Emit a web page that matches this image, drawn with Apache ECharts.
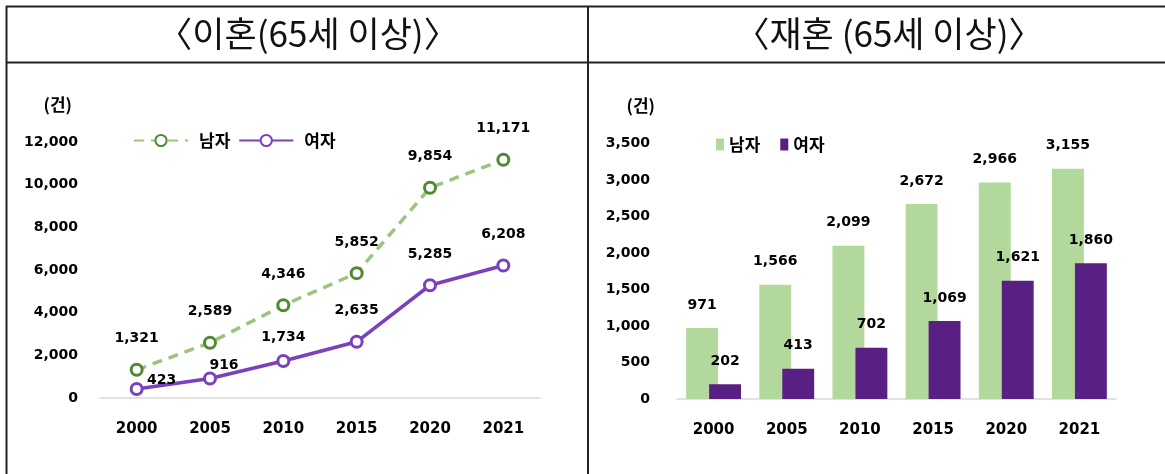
<!DOCTYPE html>
<html>
<head>
<meta charset="utf-8">
<script src="https://cdn.jsdelivr.net/npm/echarts@6/dist/echarts.min.js"></script>
<style>
html, body { margin: 0; padding: 0; background: #fff; }
#chart { width: 1165px; height: 474px; }
</style>
</head>
<body>
<div id="chart"></div>
<script>
// 연도
const years = ['2000', '2005', '2010', '2015', '2020', '2021']
// 이혼 (65세 이상)
const divorceMale = [1321, 2589, 4346, 5852, 9854, 11171]
const divorceFemale = [423, 916, 1734, 2635, 5285, 6208]
// 재혼 (65세 이상)
const remarryMale = [971, 1566, 2099, 2672, 2966, 3155]
const remarryFemale = [202, 413, 702, 1069, 1621, 1860]
// y축 눈금
const divorceTicks = { max: 12000, step: 2000 }
const remarryTicks = { max: 3500, step: 500 }

const NUM_FONT = 'DejaVu Sans'
const KR_FONT = 'Noto Sans CJK KR'
const fmt = v => Number(v).toLocaleString('en-US')

const labelStyle = {
  show: true,
  position: 'top',
  color: '#000',
  fontFamily: NUM_FONT,
  fontWeight: 'bold',
  fontSize: 14,
  formatter: p => fmt(p.value)
}

// 여자 선 라벨 중 몇 개는 원본처럼 옆으로 비껴 놓음
const femaleLabelOffsets = { 0: [25, 22], 1: [14, 18], 2: [0, 7] }

const titleStyle = { fontFamily: KR_FONT, fontWeight: 'normal', fontSize: 35, color: '#111' }
const nameStyle = { fontFamily: KR_FONT, fontWeight: 'bold', fontSize: 17, color: '#000', align: 'right' }
const tickStyle = { color: '#000', fontFamily: NUM_FONT, fontWeight: 'bold', fontSize: 14, formatter: fmt }

const chart = echarts.init(document.getElementById('chart'))
chart.setOption({
  backgroundColor: '#fff',
  animation: false,
  title: [
    { text: '〈이혼(65세 이상)〉', left: 303, top: 11, textAlign: 'center', textStyle: titleStyle },
    { text: '〈재혼 (65세 이상)〉', left: 884, top: 11, textAlign: 'center', textStyle: titleStyle }
  ],
  graphic: [
    { type: 'line', shape: { x1: 6, y1: 6.5, x2: 1165, y2: 6.5 }, style: { stroke: '#222', lineWidth: 2 } },
    { type: 'line', shape: { x1: 6, y1: 62.5, x2: 1165, y2: 62.5 }, style: { stroke: '#222', lineWidth: 2 } },
    { type: 'line', shape: { x1: 6.5, y1: 6, x2: 6.5, y2: 474 }, style: { stroke: '#222', lineWidth: 2 } },
    { type: 'line', shape: { x1: 588, y1: 6, x2: 588, y2: 474 }, style: { stroke: '#222', lineWidth: 2 } }
  ],
  legend: [
    {
      data: ['이혼 남자', '이혼 여자'],
      formatter: n => n.split(' ')[1],
      left: 128,
      top: 127,
      itemWidth: 54,
      itemHeight: 14,
      itemGap: 8,
      textStyle: { fontFamily: KR_FONT, fontWeight: 'bold', fontSize: 17, color: '#000', padding: [0, 0, 0, 6] }
    },
    {
      data: ['재혼 남자', '재혼 여자'],
      formatter: n => n.split(' ')[1],
      icon: 'rect',
      left: 711,
      top: 131,
      itemWidth: 8,
      itemHeight: 12,
      itemGap: 20,
      textStyle: { fontFamily: KR_FONT, fontWeight: 'bold', fontSize: 17, color: '#000' }
    }
  ],
  grid: [
    { left: 100, top: 142, width: 440, height: 256 },
    { left: 677, top: 143.5, width: 439, height: 255.5 }
  ],
  xAxis: [0, 1].map(i => ({
    gridIndex: i,
    type: 'category',
    data: years,
    axisTick: { show: false },
    axisLine: { lineStyle: { color: '#d9d9d9', width: 1.5 } },
    axisLabel: { margin: 24, color: '#000', fontFamily: NUM_FONT, fontWeight: 'bold', fontSize: 15 }
  })),
  yAxis: [
    {
      gridIndex: 0,
      type: 'value',
      min: 0,
      max: divorceTicks.max,
      interval: divorceTicks.step,
      name: '(건)',
      nameGap: 29,
      nameTextStyle: Object.assign({}, nameStyle, { padding: [0, 28, 0, 0] }),
      splitLine: { show: false },
      axisLine: { show: false },
      axisTick: { show: false },
      axisLabel: Object.assign({ margin: 22 }, tickStyle)
    },
    {
      gridIndex: 1,
      type: 'value',
      min: 0,
      max: remarryTicks.max,
      interval: remarryTicks.step,
      name: '(건)',
      nameGap: 29,
      nameTextStyle: Object.assign({}, nameStyle, { padding: [0, 22, 0, 0] }),
      splitLine: { show: false },
      axisLine: { show: false },
      axisTick: { show: false },
      axisLabel: Object.assign({ margin: 27 }, tickStyle)
    }
  ],
  series: [
    {
      name: '이혼 여자',
      type: 'line',
      xAxisIndex: 0,
      yAxisIndex: 0,
      data: divorceFemale.map((v, i) => femaleLabelOffsets[i]
        ? { value: v, label: { offset: femaleLabelOffsets[i] } }
        : v),
      symbol: 'circle',
      symbolSize: 11,
      lineStyle: { color: '#7b3fc0', width: 3.5 },
      itemStyle: { color: '#fff', borderColor: '#7b3fc0', borderWidth: 3 },
      label: Object.assign({}, labelStyle, { distance: 17 })
    },
    {
      name: '이혼 남자',
      type: 'line',
      xAxisIndex: 0,
      yAxisIndex: 0,
      data: divorceMale,
      symbol: 'circle',
      symbolSize: 11,
      lineStyle: { color: '#9cc47e', width: 3.5, type: [10, 7] },
      itemStyle: { color: '#fff', borderColor: '#4f8a33', borderWidth: 3 },
      label: Object.assign({}, labelStyle, { distance: 17 })
    },
    {
      name: '재혼 남자',
      type: 'bar',
      xAxisIndex: 1,
      yAxisIndex: 1,
      data: remarryMale,
      barGap: '-28%',
      barCategoryGap: '25%',
      itemStyle: { color: '#b3d89c' },
      label: Object.assign({}, labelStyle, { distance: 16 })
    },
    {
      name: '재혼 여자',
      type: 'bar',
      xAxisIndex: 1,
      yAxisIndex: 1,
      data: remarryFemale,
      barGap: '-28%',
      barCategoryGap: '25%',
      itemStyle: { color: '#5a1f82' },
      label: Object.assign({}, labelStyle, { distance: 16 })
    }
  ]
})
</script>
</body>
</html>
